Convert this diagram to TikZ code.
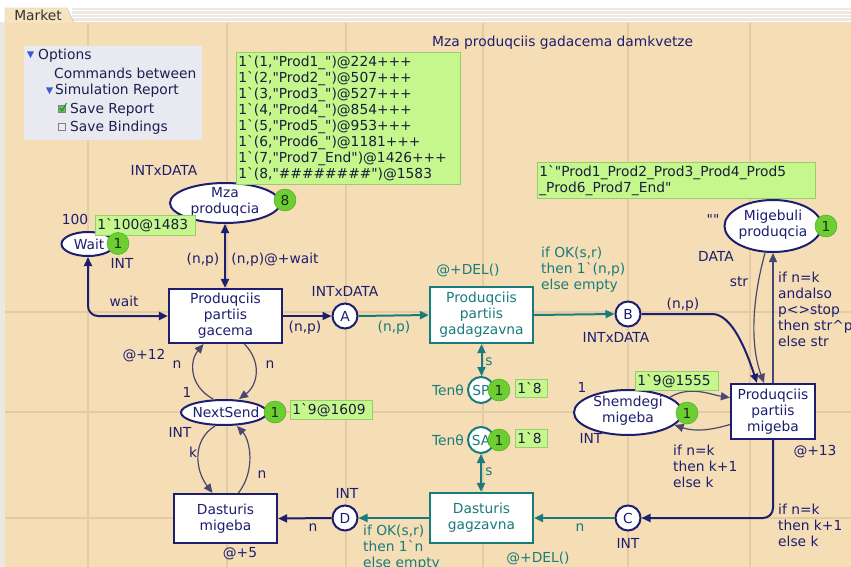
\documentclass[tikz,border=0pt]{standalone}
\usepackage{fontspec}
\newfontfamily\dvs{DejaVu Sans}
\usetikzlibrary{arrows.meta,shapes.geometric}
\definecolor{bg}{RGB}{245,222,181}
\definecolor{gridc}{RGB}{226,203,165}
\definecolor{navy}{RGB}{30,30,112}
\definecolor{tealc}{RGB}{24,124,124}
\definecolor{thinc}{RGB}{72,72,112}
\definecolor{tok}{RGB}{108,206,48}
\definecolor{tokd}{RGB}{80,170,40}
\definecolor{tokt}{RGB}{25,45,25}
\definecolor{lbl}{RGB}{198,247,140}
\definecolor{lblb}{RGB}{150,205,110}
\definecolor{boxt}{RGB}{25,30,60}
\definecolor{panel}{RGB}{233,233,241}
\definecolor{paneltext}{RGB}{30,30,80}
\definecolor{tri}{RGB}{60,90,200}
\definecolor{tabc}{RGB}{247,227,192}
\definecolor{stripe}{RGB}{236,232,224}
\newcommand\bq{\textasciigrave}
\newcommand\dq{\textquotedbl}
\begin{document}
\begin{tikzpicture}[x=1pt,y=-1pt,font=\dvs\fontsize{13.8}{16}\selectfont,
  >={Triangle[length=9pt,width=8pt]},
  trans/.style={draw=navy,line width=2.2pt,fill=white,text=navy,align=center,inner sep=0pt},
  ttrans/.style={trans,draw=tealc,text=tealc},
  place/.style={ellipse,draw=navy,line width=2pt,fill=white,inner sep=0pt},
  cplace/.style={circle,draw=navy,line width=2pt,fill=white,text=navy,minimum size=25pt,inner sep=0pt},
  tplace/.style={cplace,draw=tealc,text=tealc,minimum size=26pt},
  ptext/.style={text=navy,align=center,inner sep=0pt},
  token/.style={circle,fill=tok,draw=tokd,line width=0.5pt,minimum size=22pt,inner sep=0pt,text=tokt},
  lbox/.style={fill=lbl,draw=lblb,line width=0.6pt,anchor=north west,align=left,inner xsep=2pt,inner ysep=0pt,text=boxt},
  lab/.style={text=navy,inner sep=0pt},
  tlab/.style={text=tealc,inner sep=0pt},
  mlab/.style={lab,align=left,anchor=north west},
  tmlab/.style={tlab,align=left,anchor=north west},
  ptx/.style={anchor=west,text=paneltext,inner sep=0pt},
  arcT/.style={draw=navy,line width=2pt},
  tarc/.style={draw=tealc,line width=2pt},
  thinarc/.style={draw=thinc,line width=1.2pt}]
\useasboundingbox (0,0) rectangle (851,567);
% background
\fill[bg] (0,0) rectangle (851,567);
\fill[white] (0,0) rectangle (851,22);
\fill[stripe] (72,8) rectangle (851,22.5);
\foreach \yy in {10.5,14,17.5,21} \draw[white,line width=0.8pt] (72,\yy) -- (851,\yy);
\fill[stripe] (0,22) rectangle (5,567);
\foreach \xx in {88,227,346,483,628,750} \draw[gridc,line width=1.3pt] (\xx,23) -- (\xx,567);
\foreach \yy in {312,412,518} \draw[gridc,line width=1.3pt] (5,\yy) -- (851,\yy);
% tab
\filldraw[fill=tabc,draw=black!25] (5,23) -- (5,8) -- (67,8) -- (74,23);
\node[text=black!80,inner sep=0pt] (tab) at (38,15.5) {Market};
% options panel
\fill[panel] (24,46) rectangle (202,140);
\fill[tri] (27,51.5) -- (34,51.5) -- (30.5,58) -- cycle;
\node[ptx] (o1) at (38,55.5) {Options};
\node[ptx] (o2) at (54,73) {Commands between};
\fill[tri] (46,87.5) -- (53,87.5) -- (49.5,94) -- cycle;
\node[ptx] (o3) at (55,91) {Simulation Report};
\filldraw[fill=green!45!black!55,draw=gray,line width=0.8pt] (58.5,105.5) rectangle (65.5,112.5);
\draw[green!65!black,line width=1pt] (60,108) -- (62,111) -- (66.5,103);
\node[ptx] (o4) at (70,109.5) {Save Report};
\filldraw[fill=black!8,draw=gray,line width=1pt] (58.5,124) rectangle (65,130.5);
\node[ptx] (o5) at (70,127.5) {Save Bindings};
% title
\node[lab,anchor=west] (title) at (432,43) {Mza produqciis gadacema damkvetze};

% transitions
\node[trans,minimum width=113pt,minimum height=54pt] (gac) at (225.5,316) {Produqciis\\partiis\\gacema};
\node[ttrans,minimum width=103pt,minimum height=56pt] (gad) at (481.5,315) {Produqciis\\partiis\\gadagzavna};
\node[trans,minimum width=84pt,minimum height=55pt] (mig) at (773,411.5) {Produqciis\\partiis\\migeba};
\node[ttrans,minimum width=103pt,minimum height=50pt] (dgz) at (481.5,518) {Dasturis\\gagzavna};
\node[trans,minimum width=103pt,minimum height=49pt] (dmg) at (225.5,518.5) {Dasturis\\migeba};

% places
\node[place,minimum width=110pt,minimum height=40pt] (mza) at (225,203) {};
\node[ptext] (mzat) at (225,201.5) {Mza\\produqcia};
\node[place,minimum width=53pt,minimum height=24pt] (wait) at (88,244) {};
\node[ptext] (waitt) at (89,244) {Wait};
\node[place,minimum width=97pt,minimum height=52pt] (migb) at (773,226) {};
\node[ptext] (migbt) at (773,224.5) {Migebuli\\produqcia};
\node[place,minimum width=108pt,minimum height=45pt] (shm) at (628,412.5) {};
\node[ptext] (shmt) at (628,411) {Shemdegi\\migeba};
\node[place,minimum width=86pt,minimum height=25pt] (ns) at (224,412.5) {};
\node[ptext] (nst) at (226,412.5) {NextSend};
\node[cplace] (A) at (345,316) {A};
\node[cplace] (B) at (628,314) {B};
\node[cplace] (C) at (628,518) {C};
\node[cplace] (D) at (345,518) {D};
\node[tplace] (SP) at (481,390) {SP};
\node[tplace] (SA) at (481,440) {SA};

% arcs
\draw[arcT,<->] (mza.south) -- (mza.south |- gac.north);
\draw[arcT,<->,rounded corners=10pt] (wait.south) |- (gac.west);
\draw[arcT,->] (gac.east) -- (A.west);
\draw[tarc,->] (A.east) -- (gad.west);
\draw[tarc,->] (gad.east) -- (B.west);
\draw[arcT,->] (B.east) -- (712,314) .. controls (732,314) and (746,350) .. ([xshift=-16pt]mig.north);
\draw[arcT,->,rounded corners=10pt] (mig.south) |- (C.east);
\draw[tarc,->] (C.west) -- (dgz.east);
\draw[tarc,->] (dgz.west) -- (D.east);
\draw[arcT,->] (D.west) -- (dmg.east);
\draw[tarc,<->] (gad.south) -- (gad.south |- SP.north);
\draw[tarc,<->] (SA.south) -- (SA.south |- dgz.north);
\draw[thinarc,->] (mig.north) -- (migb.south);
\draw[thinarc,->] ([xshift=-8pt]migb.south) .. controls (752,300) and (750,345) .. ([xshift=-9pt]mig.north);
\draw[thinarc,->] ([xshift=-11pt]ns.north) .. controls (188,385) and (190,360) .. ([xshift=-22pt]gac.south);
\draw[thinarc,->] ([xshift=19pt]gac.south) .. controls (262,362) and (258,385) .. ([xshift=15pt]ns.north);
\draw[thinarc,->] ([xshift=-9pt]ns.south) .. controls (192,440) and (195,470) .. ([xshift=-13pt]dmg.north);
\draw[thinarc,->] ([xshift=13pt]dmg.north) .. controls (256,470) and (250,440) .. ([xshift=13pt]ns.south);
\draw[thinarc,->] (shm.20) .. controls (690,385) and (712,395) .. ([yshift=14pt]mig.west);
\draw[thinarc,->] ([yshift=-13pt]mig.west) .. controls (712,430) and (695,432) .. (shm.-15);

% marking boxes
\node[lbox,text width=220pt,minimum height=132pt] (mzam) at (236,52) {1\bq(1,\dq Prod1\_\dq)@224+++\\1\bq(2,\dq Prod2\_\dq)@507+++\\1\bq(3,\dq Prod3\_\dq)@527+++\\1\bq(4,\dq Prod4\_\dq)@854+++\\1\bq(5,\dq Prod5\_\dq)@953+++\\1\bq(6,\dq Prod6\_\dq)@1181+++\\1\bq(7,\dq Prod7\_End\dq)@1426+++\\1\bq(8,\dq\#\#\#\#\#\#\#\#\dq)@1583};
\node[lbox,text width=96pt,minimum height=20pt] (waitm) at (95,215) {1\bq 100@1483};
\node[lbox,text width=274pt,minimum height=36pt] (migbm) at (537,162) {1\bq\dq Prod1\_Prod2\_Prod3\_Prod4\_Prod5\\\_Prod6\_Prod7\_End\dq};
\node[lbox,text width=78pt,minimum height=19pt] (nsm) at (290,400) {1\bq 9@1609};
\node[lbox,text width=79pt,minimum height=19pt] (shmm) at (635,371) {1\bq 9@1555};
\node[lbox,text width=28pt,minimum height=18pt] (SPm) at (515,379) {1\bq 8};
\node[lbox,text width=28pt,minimum height=18pt] (SAm) at (515,429) {1\bq 8};

% tokens
\node[token] (mzak) at (285,200) {8};
\node[token] (waitk) at (118,243.5) {1};
\node[token] (migbk) at (826,226) {1};
\node[token] (shmk) at (687,413) {1};
\node[token] (nsk) at (275,412) {1};
\node[token] (SPk) at (499,390) {1};
\node[token] (SAk) at (499,440) {1};

% inscriptions
\node[lab] (lid1) at (164,170) {INTxDATA};
\node[lab] (l100) at (75,219) {100};
\node[lab] (lint1) at (122,263) {INT};
\node[lab] (lnp1) at (203,260) {(n,p)};
\node[lab] (lnpw) at (275,260) {(n,p)@+wait};
\node[lab] (lwait) at (124,301) {wait};
\node[lab] (lintA) at (345,291) {INTxDATA};
\node[lab] (lnp2) at (305,328) {(n,p)};
\node[tlab] (lnp3) at (394,328) {(n,p)};
\node[tlab] (ldel1) at (468,270) {@+DEL()};
\node[tmlab] (lok1) at (541,246.5) {if OK(s,r)\\then 1\bq(n,p)\\else empty};
\node[lab] (lnp4) at (683,305) {(n,p)};
\node[lab] (lintB) at (616,337) {INTxDATA};
\node[lab] (lq) at (713,219) {\dq\dq};
\node[lab] (ldata) at (716,256) {DATA};
\node[lab] (lstr) at (739,282) {str};
\node[mlab] (lifn1) at (778,271.5) {if n=k\\andalso\\p<>stop\\then str\textasciicircum p\\else str};
\node[lab] (l1s) at (582,387) {1};
\node[lab] (lints) at (591,438) {INT};
\node[mlab] (lifn2) at (673,445) {if n=k\\then k+1\\else k};
\node[lab] (l13) at (815,452) {@+13};
\node[mlab] (lifn3) at (778,503.5) {if n=k\\then k+1\\else k};
\node[lab] (lintC) at (628,543) {INT};
\node[tlab] (ln1) at (580,528) {n};
\node[tlab] (ldel2) at (538,558) {@+DEL()};
\node[tlab] (lten1) at (448,390) {Tenθ};
\node[tlab] (lten2) at (448,440) {Tenθ};
\node[tlab] (ls1) at (489,362) {s};
\node[tlab] (ls2) at (489,472) {s};
\node[tmlab] (lok2) at (363,524.5) {if OK(s,r)\\then 1\bq n\\else empty};
\node[lab] (lintD) at (347,493) {INT};
\node[lab] (ln2) at (313,528) {n};
\node[lab] (l5) at (240,554) {@+5};
\node[lab] (lintN) at (180,432) {INT};
\node[lab] (l1n) at (187,392) {1};
\node[lab] (lk) at (193,452) {k};
\node[lab] (lnl) at (177,365) {n};
\node[lab] (lnr) at (270,365) {n};
\node[lab] (lnb) at (262,475) {n};
\node[lab] (l12) at (144,356) {@+12};
\end{tikzpicture}
\end{document}
